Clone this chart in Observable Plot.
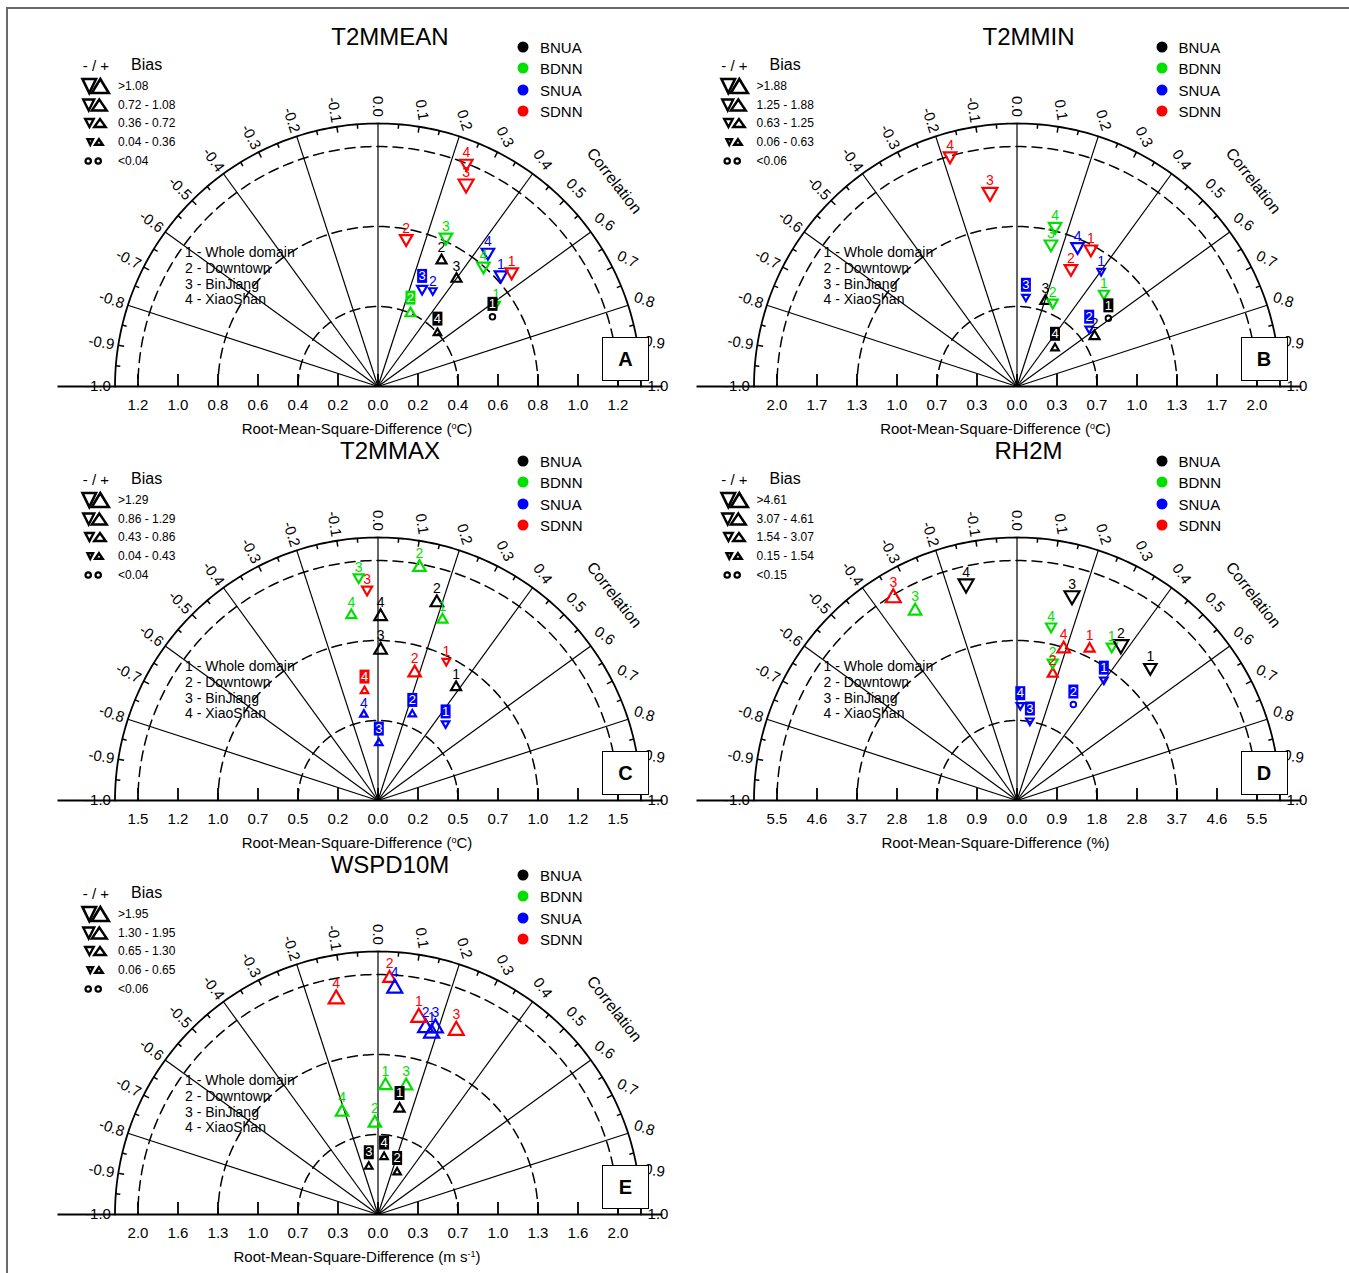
<!DOCTYPE html>
<html><head><meta charset="utf-8">
<script src="https://cdn.jsdelivr.net/npm/d3@7"></script>
<script src="https://cdn.jsdelivr.net/npm/@observablehq/plot@0.6"></script>
<style>
body{margin:0;background:#fff;font-family:"Liberation Sans",Arial,Helvetica,sans-serif;color:#000;}
#fig{position:relative;width:1349px;height:1273px;overflow:hidden;background:#fff;}
.abs{position:absolute;white-space:nowrap;line-height:1;}
.c{transform:translate(-50%,-50%);}
.l{transform:translate(0,-50%);}
sup{font-size:0.6em;vertical-align:0.55em;line-height:0;}
</style></head><body><div id="fig"></div>
<script>
// ---------- data ----------
const models = ["BNUA", "BDNN", "SNUA", "SDNN"];
const modelColors = ["#000000", "#00e000", "#0000ff", "#ff0000"];
const regionIds = ["1", "2", "3", "4"];
const regionNames = ["Whole domain", "Downtown", "BinJiang", "XiaoShan"];
const panelTitles = ["T2MMEAN", "T2MMIN", "T2MMAX", "RH2M", "WSPD10M"];
const panelLetters = ["A", "B", "C", "D", "E"];
const unitLabels = ["<sup>o</sup>C", "<sup>o</sup>C", "<sup>o</sup>C", "%", "m s<sup>-1</sup>"];
const rmsdStep = [0.2, 1 / 3, 0.25, 0.92, 0.328];

const ticksA = ["1.2","1.0","0.8","0.6","0.4","0.2","0.0","0.2","0.4","0.6","0.8","1.0","1.2"];
const ticksB = ["2.0","1.7","1.3","1.0","0.7","0.3","0.0","0.3","0.7","1.0","1.3","1.7","2.0"];
const ticksC = ["1.5","1.2","1.0","0.7","0.5","0.2","0.0","0.2","0.5","0.7","1.0","1.2","1.5"];
const ticksD = ["5.5","4.6","3.7","2.8","1.8","0.9","0.0","0.9","1.8","2.8","3.7","4.6","5.5"];
const ticksE = ["2.0","1.6","1.3","1.0","0.7","0.3","0.0","0.3","0.7","1.0","1.3","1.6","2.0"];

const biasBinsA = [">1.08", "0.72 - 1.08", "0.36 - 0.72", "0.04 - 0.36", "<0.04"];
const biasBinsB = [">1.88", "1.25 - 1.88", "0.63 - 1.25", "0.06 - 0.63", "<0.06"];
const biasBinsC = [">1.29", "0.86 - 1.29", "0.43 - 0.86", "0.04 - 0.43", "<0.04"];
const biasBinsD = [">4.61", "3.07 - 4.61", "1.54 - 3.07", "0.15 - 1.54", "<0.15"];
const biasBinsE = [">1.95", "1.30 - 1.95", "0.65 - 1.30", "0.06 - 0.65", "<0.06"];

// order: BNUA 1-4, BDNN 1-4, SNUA 1-4, SDNN 1-4
// bias class: +k = positive bias (up triangle), -k = negative (down), 0 = near zero (circle)
const corrA = [0.652, 0.297, 0.401, 0.533, 0.612, 0.266, 0.272, 0.458, 0.531, 0.33, 0.27, 0.437, 0.549, 0.12, 0.261, 0.24];
const rmsdA = [0.67, 0.706, 0.666, 0.40, 0.72, 0.40, 0.82, 0.80, 0.83, 0.553, 0.536, 0.867, 0.88, 0.752, 1.105, 1.20];
const biasA = [0, 2, 2, 1, -1, 2, -3, -3, -3, -1, -2, -3, -3, -3, -4, -3];
const boxA  = [1, 0, 0, 1, 0, 1, 0, 0, 0, 0, 1, 0, 0, 0, 0, 0];

const corrB = [0.592, 0.634, 0.204, 0.497, 0.479, 0.256, 0.149, 0.149, 0.401, 0.571, 0.063, 0.26, 0.314, 0.273, -0.088, -0.18];
const rmsdB = [0.95, 0.77, 0.75, 0.45, 1.06, 0.76, 1.22, 1.37, 1.19, 0.77, 0.75, 1.27, 1.30, 1.08, 1.635, 2.0];
const biasB = [0, 2, 2, 1, -2, -2, -3, -3, -1, -1, -1, -3, -3, -3, -4, -3];
const boxB  = [1, 0, 0, 1, 0, 0, 0, 0, 0, 1, 1, 0, 0, 0, 0, 0];

const corrC = [0.384, 0.184, 0.011, 0.009, 0.218, 0.112, -0.055, -0.091, 0.459, 0.241, 0.009, -0.104, 0.29, 0.178, -0.033, -0.078];
const rmsdC = [0.86, 1.29, 0.94, 1.15, 1.20, 1.48, 1.40, 1.17, 0.64, 0.58, 0.36, 0.545, 0.97, 0.83, 1.32, 0.69];
const biasC = [2, 3, 3, 3, 2, 3, -2, 2, -1, 1, 1, 1, -1, 3, -2, 1];
const boxC  = [0, 0, 0, 0, 0, 0, 0, 0, 1, 1, 1, 0, 0, 0, 0, 1];

const corrD = [0.501, 0.374, 0.167, -0.147, 0.351, 0.161, -0.314, 0.123, 0.397, 0.338, 0.102, 0.022, 0.284, 0.175, -0.349, 0.19];
const rmsdD = [4.33, 4.31, 4.88, 5.12, 4.16, 3.28, 4.95, 4.08, 3.42, 2.56, 1.86, 2.19, 3.87, 3.03, 5.46, 3.65];
const biasD = [-3, -4, -4, -4, -2, -2, 3, -2, -1, 0, -1, -1, 2, 2, 4, 3];
const boxD  = [0, 0, 0, 0, 0, 0, 0, 0, 1, 1, 1, 1, 0, 0, 0, 0];

const corrE = [0.128, 0.271, -0.121, 0.067, 0.037, -0.022, 0.137, -0.215, 0.183, 0.159, 0.19, 0.047, 0.13, 0.031, 0.256, -0.122];
const rmsdE = [0.885, 0.38, 0.40, 0.475, 1.06, 0.75, 1.08, 0.89, 1.55, 1.58, 1.60, 1.86, 1.65, 1.94, 1.64, 1.80];
const biasE = [2, 1, 1, 1, 3, 3, 3, 3, 4, 4, 4, 4, 4, 3, 4, 4];
const boxE  = [1, 1, 1, 1, 0, 0, 0, 0, 0, 0, 0, 0, 0, 0, 0, 0];

const correlationTicks = [-1.0,-0.9,-0.8,-0.7,-0.6,-0.5,-0.4,-0.3,-0.2,-0.1,0.0,0.1,0.2,0.3,0.4,0.5,0.6,0.7,0.8,0.9,1.0];
const spokeCorrs = [-0.8, -0.6, -0.4, -0.2, 0.0, 0.2, 0.4, 0.6, 0.8];
const dashedRings = [2, 4, 6]; // in x-tick steps

const panels = [
  {corr: corrA, rmsd: rmsdA, bias: biasA, boxed: boxA, ticks: ticksA, bins: biasBinsA},
  {corr: corrB, rmsd: rmsdB, bias: biasB, boxed: boxB, ticks: ticksB, bins: biasBinsB},
  {corr: corrC, rmsd: rmsdC, bias: biasC, boxed: boxC, ticks: ticksC, bins: biasBinsC},
  {corr: corrD, rmsd: rmsdD, bias: biasD, boxed: boxD, ticks: ticksD, bins: biasBinsD},
  {corr: corrE, rmsd: rmsdE, bias: biasE, boxed: boxE, ticks: ticksE, bins: biasBinsE}
].map((p, i) => ({...p, step: rmsdStep[i], title: panelTitles[i], letter: panelLetters[i], unit: unitLabels[i]}));

// ---------- layout ----------
const panelOffsets = [[0, 0], [638.5, 0], [0, 414], [638.5, 414], [0, 828]];
const W = 700, H = 440, CX = 377.5, CY = 386, PX = 40;
const R_OUT = 263 / PX, R_LAB = 280 / PX;
const SIDES = [0, 7.5, 10, 12.5, 15];
const ang = c => (1 - c) * Math.PI / 2;

function triSymbol(side, up) {
  const h = side * Math.sqrt(3) / 2;
  return {draw(ctx) {
    if (up) { ctx.moveTo(0, -2 * h / 3); ctx.lineTo(side / 2, h / 3); ctx.lineTo(-side / 2, h / 3); }
    else { ctx.moveTo(0, 2 * h / 3); ctx.lineTo(side / 2, -h / 3); ctx.lineTo(-side / 2, -h / 3); }
    ctx.closePath();
  }};
}
const boxSymbol = {draw(ctx) { ctx.moveTo(-5, -7); ctx.lineTo(5, -7); ctx.lineTo(5, 7); ctx.lineTo(-5, 7); ctx.closePath(); }};

function makePanel(p) {
  const rows = [];
  models.forEach((m, mi) => regionIds.forEach((rg, ri) => {
    const k = mi * 4 + ri;
    rows.push({model: m, color: modelColors[mi], region: rg, corr: p.corr[k], rmsd: p.rmsd[k], bias: p.bias[k], boxed: p.boxed[k] === 1});
  }));
  rows.forEach(d => {
    const rr = d.rmsd / p.step, a = ang(d.corr);
    d.x = rr * Math.cos(a); d.y = rr * Math.sin(a);
    const cls = Math.abs(d.bias);
    let top = 3;
    if (cls > 0) { const h = SIDES[cls] * Math.sqrt(3) / 2; top = d.bias > 0 ? 2 * h / 3 : h / 3; }
    d.ly = d.y + (top + (d.boxed ? 10 : 7)) / PX;
  });

  const ringPts = dashedRings.flatMap(r => d3.range(0, 181).map(a => ({r, x: r * Math.cos(a * Math.PI / 180), y: r * Math.sin(a * Math.PI / 180)})));
  const outerPts = d3.range(0, 181).map(a => ({x: R_OUT * Math.cos(a * Math.PI / 180), y: R_OUT * Math.sin(a * Math.PI / 180)}));
  const arcTicks = d3.range(-19, 20).filter(i => i % 4 !== 0).map(i => ({c: i * 0.05, len: (i % 2 === 0 ? 6 : 4.5) / PX}));

  const marks = [
    Plot.line(ringPts, {x: "x", y: "y", z: "r", stroke: "black", strokeWidth: 1.5, strokeDasharray: "10,6"}),
    Plot.line(outerPts, {x: "x", y: "y", stroke: "black", strokeWidth: 1.8}),
    Plot.link(spokeCorrs, {x1: () => 0, y1: () => 0, x2: c => R_OUT * Math.cos(ang(c)), y2: c => R_OUT * Math.sin(ang(c)), stroke: "black", strokeWidth: 1.2}),
    Plot.link(arcTicks, {x1: d => R_OUT * Math.cos(ang(d.c)), y1: d => R_OUT * Math.sin(ang(d.c)), x2: d => (R_OUT - d.len) * Math.cos(ang(d.c)), y2: d => (R_OUT - d.len) * Math.sin(ang(d.c)), stroke: "black", strokeWidth: 1.5}),
    Plot.ruleY([0], {x1: () => -320 / PX, x2: () => 285 / PX, stroke: "black", strokeWidth: 2}),
    Plot.ruleX(p.ticks, {x: (d, i) => i - 6, y1: () => 0, y2: () => 12 / PX, stroke: "black", strokeWidth: 1.8}),
    Plot.text(p.ticks, {x: (d, i) => i - 6, y: () => -19 / PX, text: d => d, fontSize: 15}),
    Plot.text(correlationTicks, {
      x: c => R_LAB * Math.cos(ang(c)), y: c => R_LAB * Math.sin(ang(c)),
      text: c => c.toFixed(1),
      rotate: c => { const t = (1 - c) * 90; return c >= 0 ? t : 180 - t; },
      fontSize: 15
    })
  ];
  // markers
  marks.push(Plot.dot(rows.filter(d => d.bias === 0), {x: "x", y: "y", symbol: "circle", r: 2.8, stroke: d => d.color, strokeWidth: 1.9, fill: "none"}));
  for (let cls = 1; cls <= 4; cls++) {
    for (const up of [true, false]) {
      const sub = rows.filter(d => Math.abs(d.bias) === cls && (d.bias > 0) === up);
      if (sub.length) marks.push(Plot.dot(sub, {x: "x", y: "y", symbol: triSymbol(SIDES[cls], up), r: 5, stroke: d => d.color, strokeWidth: 2.2, fill: "none"}));
    }
  }
  // labels
  marks.push(Plot.text(rows.filter(d => !d.boxed), {x: "x", y: "ly", text: "region", fill: d => d.color, fontSize: 14}));
  marks.push(Plot.dot(rows.filter(d => d.boxed), {x: "x", y: "ly", symbol: boxSymbol, r: 5, fill: d => d.color, stroke: "none"}));
  marks.push(Plot.text(rows.filter(d => d.boxed), {x: "x", y: "ly", text: "region", fill: "white", fontSize: 13}));

  return Plot.plot({
    width: W, height: H, margin: 0,
    x: {domain: [-CX / PX, (W - CX) / PX], axis: null},
    y: {domain: [-(H - CY) / PX, CY / PX], axis: null},
    color: {type: "identity"},
    style: {background: "transparent", overflow: "visible", fontFamily: "'Liberation Sans', Arial, sans-serif", color: "black"},
    marks
  });
}

// ---------- build page ----------
const fig = document.getElementById("fig");
function addDiv(html, x, y, cls, css) {
  const d = document.createElement("div");
  d.className = "abs " + cls;
  d.style.left = x + "px"; d.style.top = y + "px";
  d.innerHTML = html;
  if (css) d.style.cssText += css;
  fig.appendChild(d);
  return d;
}
// figure frame
const frame = document.createElement("div");
frame.style.cssText = "position:absolute;left:6px;top:7px;width:1400px;height:1400px;border-top:2px solid #6a6a6a;border-left:2px solid #6a6a6a;";
fig.appendChild(frame);

// bias legend glyphs (panel-relative pixel geometry of the key)
const keyDownW = [13.5, 11, 8.5, 5.5];
const keyUpW = [17, 15, 11.5, 7.5];
const keyH = [14, 11, 8, 5.5];
const keyDownX = [82.5, 83.2, 85.2, 87.5];
const keyUpX = [91.8, 91.8, 94.2, 95.2];
const legendRowsY = [86, 104.5, 123, 142, 161];
const KEY_LEFT = 74;

function legendGlyph(i) {
  const svg = d3.create("svg").attr("width", 40).attr("height", 20).style("display", "block");
  const cy = 10;
  if (i === 4) {
    [88.2, 98.2].forEach(cx => svg.append("circle").attr("cx", cx - KEY_LEFT).attr("cy", cy).attr("r", 2.7)
      .attr("fill", "none").attr("stroke", "black").attr("stroke-width", 2.2));
  } else {
    const t = cy - keyH[i] / 2, b = cy + keyH[i] / 2;
    const xl = keyDownX[i] - KEY_LEFT, a = keyDownW[i];
    const xu = keyUpX[i] - KEY_LEFT, w = keyUpW[i];
    const sw = i === 0 ? 2.6 : 2.4;
    svg.append("path").attr("d", `M${xl},${t}L${xl + a},${t}L${xl + a / 2},${b}Z`).attr("fill", "none").attr("stroke", "black").attr("stroke-width", sw).attr("stroke-linejoin", "miter");
    svg.append("path").attr("d", `M${xu + w / 2},${t}L${xu + w},${b}L${xu},${b}Z`).attr("fill", "none").attr("stroke", "black").attr("stroke-width", sw).attr("stroke-linejoin", "miter");
  }
  return svg.node();
}

panels.forEach((p, pi) => {
  const [ox, oy] = panelOffsets[pi];
  const holder = document.createElement("div");
  holder.style.cssText = `position:absolute;left:${ox}px;top:${oy}px;width:${W}px;height:${H}px;`;
  holder.appendChild(makePanel(p));
  fig.appendChild(holder);

  addDiv(p.title, ox + 390, oy + 37, "c", "font-size:24px;");
  models.forEach((m, i) => {
    addDiv("", ox + 523, oy + 47 + 21.4 * i, "c", `width:11px;height:11px;border-radius:50%;background:${modelColors[i]};`);
    addDiv(m, ox + 540, oy + 47 + 21.4 * i, "l", "font-size:15px;");
  });
  addDiv("- / +", ox + 96, oy + 65, "c", "font-size:15px;");
  addDiv("Bias", ox + 131, oy + 65, "l", "font-size:16px;");
  p.bins.forEach((b, i) => {
    const d = addDiv("", ox + KEY_LEFT, oy + legendRowsY[i], "l", "");
    d.appendChild(legendGlyph(i));
    addDiv(b, ox + 118, oy + legendRowsY[i], "l", "font-size:12px;");
  });
  regionIds.forEach((r, i) => {
    addDiv(`${r} - ${regionNames[i]}`, ox + 185, oy + [252, 268, 283.5, 299][i], "l", "font-size:14px;");
  });
  addDiv("Correlation", ox + 614, oy + 181, "", "font-size:16px;transform:translate(-50%,-50%) rotate(52deg);");
  addDiv(p.letter, ox + 602, oy + 337, "", "width:45px;height:42px;border:1px solid #000;background:#fff;font-size:20px;font-weight:bold;display:flex;align-items:center;justify-content:center;");
  addDiv(`Root-Mean-Square-Difference (${p.unit})`, ox + 357, oy + 428, "c", "font-size:15px;");
});
</script></body></html>
